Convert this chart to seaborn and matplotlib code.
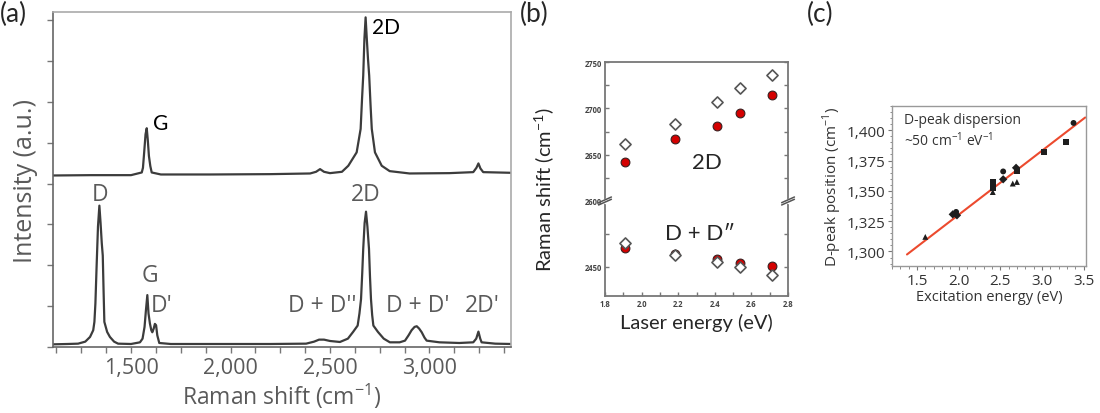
import numpy as np
import pandas as pd
import matplotlib
matplotlib.use('Agg')
import matplotlib.pyplot as plt
from matplotlib.ticker import MultipleLocator, FixedLocator, FuncFormatter
import seaborn as sns

# ---- (a) Raman spectra (shift in cm-1, intensity a.u.)
defect_shift = [1108, 1180, 1234, 1270, 1294, 1310, 1316, 1321, 1327, 1334, 1341,
                1347, 1353, 1358, 1362, 1366, 1380, 1394, 1415, 1435, 1500, 1545,
                1558, 1568, 1575, 1582, 1588, 1595, 1602, 1607, 1614, 1620, 1626,
                1632, 1642, 1700, 1900, 2200, 2380, 2420, 2445, 2470, 2500, 2550,
                2590, 2616, 2639, 2648, 2656, 2662, 2667, 2674, 2681, 2688, 2696,
                2701, 2706, 2712, 2718, 2741, 2770, 2801, 2850, 2877, 2895, 2910,
                2925, 2936, 2948, 2961, 2975, 2986, 3050, 3150, 3220, 3235, 3246,
                3255, 3262, 3330, 3410]
defect_int = [0.8, 0.9, 1.0, 1.6, 3.0, 5.0, 7.5, 13.0, 24.0, 36.0, 42.2,
              37.0, 31.0, 27.3, 17.0, 7.5, 4.5, 3.0, 1.6, 1.0, 0.9, 1.4,
              2.5, 6.0, 11.0, 15.5, 10.0, 7.0, 5.0, 4.4, 5.5, 6.9, 6.5,
              3.5, 1.2, 0.9, 0.9, 0.9, 1.0, 1.6, 2.2, 2.2, 1.8, 1.5,
              2.5, 4.5, 6.4, 10.0, 14.3, 22.0, 29.3, 37.0, 40.4, 36.0, 29.3,
              21.0, 14.3, 9.5, 6.4, 4.5, 2.5, 1.4, 1.4, 1.9, 3.5, 5.0,
              6.0, 6.2, 5.5, 4.4, 2.8, 1.9, 1.4, 1.2, 1.4, 2.5, 4.6,
              2.5, 1.4, 1.0, 0.9]

pristine_shift = [1108, 1300, 1500, 1554, 1560, 1566, 1573, 1579, 1584, 1590, 1597,
                  1604, 1650, 1900, 2200, 2400, 2430, 2450, 2470, 2500, 2560, 2592,
                  2634, 2648, 2654, 2661, 2667, 2673, 2679, 2685, 2691, 2697, 2704,
                  2710, 2726, 2760, 2800, 2900, 3100, 3220, 3236, 3246, 3256, 3270, 3410]
pristine_int = [51.2, 51.3, 51.3, 52.1, 53.5, 58.0, 63.5, 65.3, 62.0, 57.0, 54.0,
                52.1, 51.5, 51.5, 51.6, 51.8, 52.3, 53.1, 52.3, 51.9, 52.3, 54.1,
                58.1, 63.0, 65.1, 74.0, 81.0, 92.0, 98.4, 92.0, 86.0, 81.0, 72.0,
                65.1, 58.1, 54.1, 52.5, 51.8, 51.9, 52.2, 53.5, 54.8, 53.3, 52.2, 52.0]

# ---- (b) dispersion of 2D and D+D'' peaks
laser_energy = [1.91, 2.18, 2.41, 2.54, 2.71]
peak_2d_open = [2661, 2683, 2707, 2722, 2736]
peak_2d_filled = [2642, 2667, 2681, 2695, 2714]
peak_dd_open = [2468, 2459, 2453.5, 2450, 2444]
peak_dd_filled = [2464, 2460, 2456, 2453, 2451]

# ---- (c) D-peak position vs excitation energy
exc_energy = [1.60, 1.93, 1.97, 1.98, 2.41, 2.41, 2.41, 2.41, 2.535, 2.535, 2.65, 2.70,
              2.69, 2.70, 3.02, 3.29, 3.38]
d_position = [1312, 1330.6, 1332.6, 1329.8, 1357.4, 1354.7, 1352, 1349, 1366, 1359.5,
              1356, 1357.3, 1369, 1366, 1382, 1390, 1406]
exc_source = ['tri', 'dia', 'cir', 'dia', 'sq', 'sq', 'sq', 'tri', 'cir', 'dia',
              'tri', 'tri', 'dia', 'sq', 'sq', 'sq', 'cir']
fit_energy = [1.38, 3.52]
fit_position = [1297.5, 1410.5]

sns.set_style('ticks')
plt.rcParams['font.family'] = ['Open Sans', 'DejaVu Sans']

fig = plt.figure(figsize=(11, 4.14), dpi=100)

# ================= panel (a)
grey_txt = '#5a5a5a'
ax = fig.add_axes([0.0482, 0.1594, 0.4164, 0.8092])
spec = pd.DataFrame({'shift': defect_shift, 'intensity': defect_int})
spec_top = pd.DataFrame({'shift': pristine_shift, 'intensity': pristine_int})
sns.lineplot(data=spec, x='shift', y='intensity', ax=ax, color='#3c3c3c', lw=1.6,
             sort=False, estimator=None)
sns.lineplot(data=spec_top, x='shift', y='intensity', ax=ax, color='#3c3c3c', lw=1.6,
             sort=False, estimator=None)
ax.set_xlim(1108, 3410)
ax.set_ylim(0, 100)
ax.xaxis.set_major_locator(MultipleLocator(500))
ax.xaxis.set_minor_locator(MultipleLocator(125))
ax.xaxis.set_major_formatter(FuncFormatter(lambda v, p: f'{int(v):,}'))
ax.yaxis.set_major_locator(MultipleLocator(12.2))
ax.set_yticklabels([])
ax.tick_params(axis='both', which='both', direction='out', length=4, width=1,
               color='#777777', labelcolor=grey_txt, labelsize=15.5, pad=3)
for side in ['left', 'bottom']:
    ax.spines[side].set_color('#666666')
    ax.spines[side].set_linewidth(1.2)
for side in ['top', 'right']:
    ax.spines[side].set_color('#aaaaaa')
    ax.spines[side].set_linewidth(1.2)
ax.set_xlabel('Raman shift (cm$^{\\mathregular{\u22121}}$)', color=grey_txt, fontsize=16.5, labelpad=2)
ax.set_ylabel('Intensity (a.u.)', color=grey_txt, fontsize=18, labelpad=4)

lab = dict(color=grey_txt, fontsize=16.5, ha='center', va='center')
ax.text(1345, 45.7, 'D', **lab)
ax.text(2681, 45.7, '2D', **lab)
ax.text(1595, 21.5, 'G', **lab)
ax.text(1652, 12.5, "D'", **lab)
ax.text(2460, 12.5, "D + D''", **lab)
ax.text(2942, 12.5, "D + D'", **lab)
ax.text(3264, 12.5, "2D'", **lab)
blk = dict(color='black', fontsize=15, ha='left', va='center', family='Lato')
ax.text(1610, 67, 'G', **blk)
ax.text(2712, 95.4, '2D', **blk)

# ================= panel (b): broken y axis
open_2d = pd.DataFrame({'e': laser_energy, 's': peak_2d_open})
fill_2d = pd.DataFrame({'e': laser_energy, 's': peak_2d_filled})
open_dd = pd.DataFrame({'e': laser_energy, 's': peak_dd_open})
fill_dd = pd.DataFrame({'e': laser_energy, 's': peak_dd_filled})

bx_top = fig.add_axes([0.55, 0.5121, 0.1664, 0.3357])
bx_bot = fig.add_axes([0.55, 0.2826, 0.1664, 0.2295], sharex=bx_top)
for bx, op, fl in [(bx_top, open_2d, fill_2d), (bx_bot, open_dd, fill_dd)]:
    sns.scatterplot(data=fl, x='e', y='s', ax=bx, marker='o', s=40, color='#d40000',
                    edgecolor='#3a2020', linewidth=0.8, zorder=3)
    sns.scatterplot(data=op, x='e', y='s', ax=bx, marker='D', s=32, color='white',
                    edgecolor='#555555', linewidth=1.2, zorder=4)
    bx.set_xlabel('')
    bx.set_ylabel('')
    for sp in bx.spines.values():
        sp.set_color('#777777')
        sp.set_linewidth(1.3)
    bx.tick_params(axis='both', which='both', direction='in', length=3, width=1,
                   color='#777777', labelsize=5.5, labelcolor='#444444',
                   right=True, pad=2)

bx_top.set_xlim(1.8, 2.8)
bx_top.set_ylim(2600, 2750)
bx_bot.set_ylim(2428, 2500)
bx_top.yaxis.set_major_locator(MultipleLocator(50))
bx_top.yaxis.set_minor_locator(MultipleLocator(25))
bx_bot.yaxis.set_major_locator(FixedLocator([2450]))
bx_bot.yaxis.set_minor_locator(FixedLocator([2475]))
bx_bot.xaxis.set_major_locator(MultipleLocator(0.2))
bx_bot.xaxis.set_minor_locator(MultipleLocator(0.1))
bx_top.spines['bottom'].set_visible(False)
bx_bot.spines['top'].set_visible(False)
bx_top.tick_params(axis='x', which='both', bottom=False, labelbottom=False)
for lbl in bx_top.get_yticklabels() + bx_bot.get_yticklabels() + bx_bot.get_xticklabels():
    lbl.set_fontweight('bold')

# break marks
for xa in (0, 1):
    for off in (-0.012, 0.012):
        bx_bot.plot([xa - 0.035, xa + 0.035], [1.0 + off - 0.03, 1.0 + off + 0.03],
                    transform=bx_bot.transAxes, color='#555555', lw=1.1, clip_on=False, zorder=5)
    bx_bot.plot([xa, xa], [0.985, 1.015], transform=bx_bot.transAxes, color='white',
                lw=2.5, clip_on=False, zorder=4)

calibri = ['Lato', 'DejaVu Sans']
bx_bot.set_xlabel('Laser energy (eV)', fontsize=14.5, family=calibri, labelpad=4)
fig.text(0.4955, 0.541, 'Raman shift (cm$^{\\mathregular{-1}}$)', rotation=90, fontsize=14.5,
         family=calibri, ha='center', va='center')
bx_top.text(2.357, 2642, '2D', fontsize=16, family=calibri, ha='center', va='center')
bx_bot.text(2.32, 2476, 'D + D\u2033', fontsize=16, family=calibri, ha='center', va='center')

# ================= panel (c)
cx = fig.add_axes([0.8109, 0.3551, 0.1764, 0.3865])
dpk = pd.DataFrame({'energy': exc_energy, 'position': d_position, 'src': exc_source})
fit = pd.DataFrame({'energy': fit_energy, 'position': fit_position})
sns.lineplot(data=fit, x='energy', y='position', ax=cx, color='#ec4a2e', lw=1.5,
             estimator=None, sort=False)
sns.scatterplot(data=dpk, x='energy', y='position', style='src', ax=cx,
                markers={'tri': '^', 'sq': 's', 'cir': 'o', 'dia': 'D'},
                color='#1e1e1e', s=18, linewidth=0, legend=False, zorder=3)
cx.set_xlim(1.2, 3.53)
cx.set_ylim(1288, 1420)
cx.xaxis.set_major_locator(MultipleLocator(0.5))
cx.xaxis.set_minor_locator(MultipleLocator(0.1))
cx.yaxis.set_major_locator(MultipleLocator(25))
cx.yaxis.set_minor_locator(MultipleLocator(5))
cx.yaxis.set_major_formatter(FuncFormatter(lambda v, p: f'{int(v):,}'))
cx.tick_params(axis='both', which='major', direction='out', length=3, width=0.8,
               color='#777777', labelsize=11, labelcolor='#333333', pad=2)
cx.tick_params(axis='both', which='minor', direction='out', length=1.8, width=0.6,
               color='#777777')
for sp in cx.spines.values():
    sp.set_color('#999999')
    sp.set_linewidth(1.0)
cx.set_xlabel('Excitation energy (eV)', fontsize=10.5, color='#333333', labelpad=1)
cx.set_ylabel('D-peak position (cm$^{\\mathregular{\u22121}}$)', fontsize=11, color='#333333', labelpad=2)
cx.text(0.06, 0.96, 'D-peak dispersion', transform=cx.transAxes, fontsize=10,
        color='#333333', ha='left', va='top')
cx.text(0.06, 0.85, '~50 cm$^{\\mathregular{\u22121}}$ eV$^{\\mathregular{\u22121}}$',
        transform=cx.transAxes, fontsize=10, color='#333333', ha='left', va='top')

# panel letters
for x, letter in [(0.0, '(a)'), (0.4727, '(b)'), (0.7336, '(c)')]:
    fig.text(x, 0.995, letter, fontsize=19, family=calibri, ha='left', va='top')

fig.savefig('out.png', dpi=100)
